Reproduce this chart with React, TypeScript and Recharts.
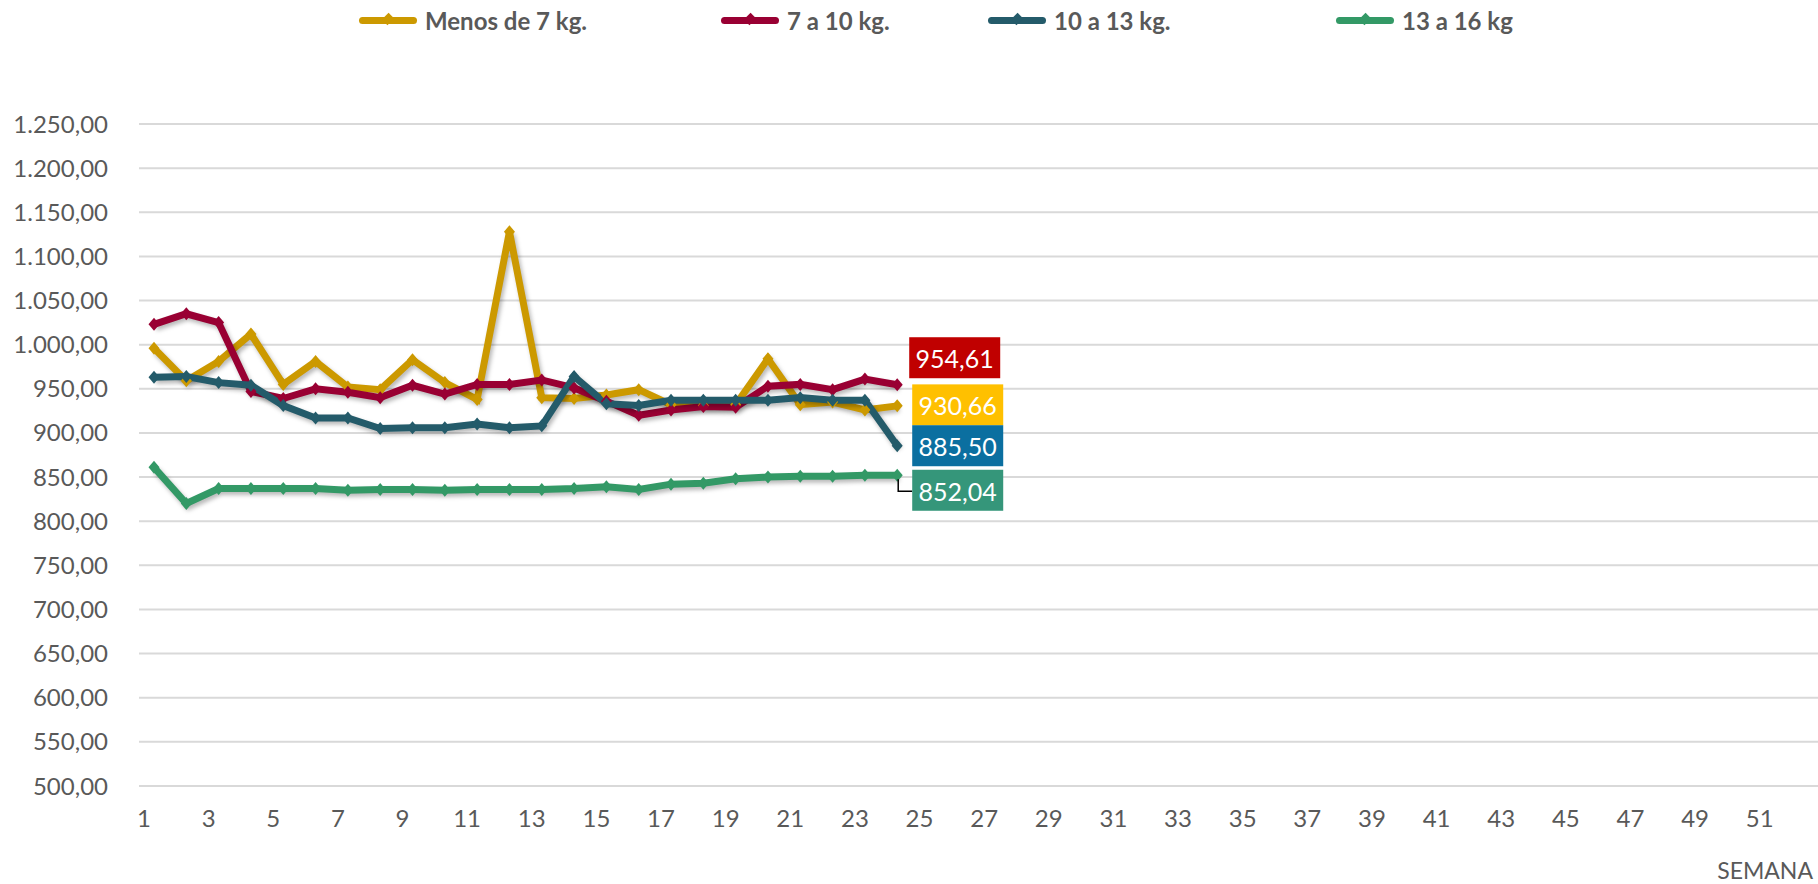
import React from 'react'
import { LineChart, Line, XAxis, YAxis, CartesianGrid, LabelList, Label } from 'recharts'

// weeks on the category axis
const semanas = [
    '1', '2', '3', '4', '5', '6', '7', '8', '9', '10', '11', '12', '13',
    '14', '15', '16', '17', '18', '19', '20', '21', '22', '23', '24', '25', '26',
    '27', '28', '29', '30', '31', '32', '33', '34', '35', '36', '37', '38', '39',
    '40', '41', '42', '43', '44', '45', '46', '47', '48', '49', '50', '51', '52',
]

const menos7 = [996, 959, 981, 1012, 955, 981, 952, 949, 983, 957, 938, 1128, 940, 939, 943, 949, 932, 931, 932, 984, 932, 935, 926, 930.66]
const de7a10 = [1023, 1035, 1025, 947, 939, 950, 946, 940, 954, 944, 955, 955, 960, 951, 936, 920, 926, 930, 929, 953, 955, 949, 961, 954.61]
const de10a13 = [963, 964, 957, 954, 931, 917, 917, 905, 906, 906, 910, 906, 908, 964, 933, 931, 937, 937, 937, 937, 940, 937, 937, 885.5]
const de13a16 = [861, 820, 837, 837, 837, 837, 835, 836, 836, 835, 836, 836, 836, 837, 839, 836, 842, 843, 848, 850, 851, 851, 852, 852.04]

const yTicks = [500, 550, 600, 650, 700, 750, 800, 850, 900, 950, 1000, 1050, 1100, 1150, 1200, 1250]

const data = semanas.map((s, i) => ({
    semana: s,
    menos7: menos7[i],
    de7a10: de7a10[i],
    de10a13: de10a13[i],
    de13a16: de13a16[i],
}))

const LAST = menos7.length - 1
const FONT = 'Lato, "Open Sans", sans-serif'

// 1.250,00 style
const fmt = (v: number) => {
    const [int, dec] = Number(v).toFixed(2).split('.')
    return int.replace(/\B(?=(\d{3})+(?!\d))/g, '.') + ',' + dec
}

const series = [
    { key: 'menos7', name: 'Menos de 7 kg.', color: '#CC9900', box: '#FFC000', dx: 15, dy: -1, leader: false, legendX: 359 },
    { key: 'de7a10', name: '7 a 10 kg.', color: '#990033', box: '#C00000', dx: 12, dy: -27, leader: false, legendX: 721 },
    { key: 'de10a13', name: '10 a 13 kg.', color: '#245B6A', box: '#0B6FA0', dx: 15, dy: 0, leader: false, legendX: 988 },
    { key: 'de13a16', name: '13 a 16 kg', color: '#339966', box: '#35967A', dx: 15, dy: 15, leader: true, legendX: 1336 },
]

const diamond = (color: string) => (p: any) => {
    const { cx, cy, index, value } = p
    if (cx == null || cy == null || value == null) return <g key={index} />
    return (
        <polygon
            key={index}
            points={`${cx},${cy - 6.5} ${cx + 5.5},${cy} ${cx},${cy + 6.5} ${cx - 5.5},${cy}`}
            fill={color}
        />
    )
}

const endLabel = (bg: string, dx: number, dy: number, leader: boolean) => (p: any) => {
    if (p.index !== LAST || p.value == null) return null
    const x = Number(p.x)
    const y = Number(p.y)
    const bx = x + dx
    const by = y + dy - 20.5
    return (
        <g>
            {leader && (
                <path d={`M${x + 1},${y + 4} L${x + 1},${y + 16} L${bx},${y + 16}`} stroke="#000" strokeWidth={1.5} fill="none" />
            )}
            <rect x={bx} y={by} width={91} height={41} fill={bg} />
            <text x={bx + 45.5} y={by + 21} fill="#fff" fontSize={25} fontFamily={FONT} textAnchor="middle" dominantBaseline="central">
                {fmt(p.value)}
            </text>
        </g>
    )
}

function LegendBar() {
    return (
        <div style={{ position: 'absolute', left: 0, top: 0, width: 1818, height: 40 }}>
            {series.map(s => (
                <div key={s.key} style={{ position: 'absolute', left: s.legendX, top: 5, height: 30, display: 'flex', alignItems: 'center' }}>
                    <div style={{ position: 'relative', width: 58, height: 7, borderRadius: 4, background: s.color }}>
                        <div style={{ position: 'absolute', left: 25, top: -1.5, width: 8, height: 8, background: s.color, transform: 'rotate(45deg) scaleY(1.2)' }} />
                    </div>
                    <span style={{ marginLeft: 8, fontFamily: FONT, fontWeight: 700, fontSize: 24, color: '#595959', whiteSpace: 'nowrap' }}>
                        {s.name}
                    </span>
                </div>
            ))}
        </div>
    )
}

export default function App() {
    return (
        <div style={{ position: 'absolute', left: 0, top: 0, width: 1818, height: 884, background: '#fff', fontFamily: FONT }}>
            <style>{`.recharts-line-curve { filter: drop-shadow(2px 3px 2px rgba(0,0,0,0.28)); }`}</style>
            <LineChart width={1818} height={884} data={data} margin={{ top: 124, right: 0, left: 0, bottom: 0 }}>
                <CartesianGrid vertical={false} stroke="#D9D9D9" strokeWidth={2} />
                <XAxis
                    dataKey="semana"
                    interval={1}
                    height={98}
                    padding={{ left: 15, right: 16 }}
                    axisLine={false}
                    tickLine={false}
                    tickSize={0}
                    tickMargin={24}
                    tick={{ fontSize: 24, fill: '#595959', fontFamily: FONT, dx: -10 }}
                >
                    <Label value="SEMANA" position="insideBottomRight" offset={5} fontSize={23} fill="#595959" fontFamily={FONT} />
                </XAxis>
                <YAxis
                    width={139}
                    domain={[500, 1250]}
                    ticks={yTicks}
                    axisLine={false}
                    tickLine={false}
                    tickSize={0}
                    tickMargin={31}
                    tickFormatter={fmt}
                    tick={{ fontSize: 24, fill: '#595959', fontFamily: FONT }}
                />
                {series.map(s => (
                    <Line
                        key={s.key}
                        dataKey={s.key}
                        name={s.name}
                        stroke={s.color}
                        strokeWidth={7}
                        strokeLinejoin="miter"
                        dot={diamond(s.color)}
                        activeDot={false}
                        isAnimationActive={false}
                    >
                        <LabelList dataKey={s.key} content={endLabel(s.box, s.dx, s.dy, s.leader)} />
                    </Line>
                ))}
            </LineChart>
            <LegendBar />
        </div>
    )
}
